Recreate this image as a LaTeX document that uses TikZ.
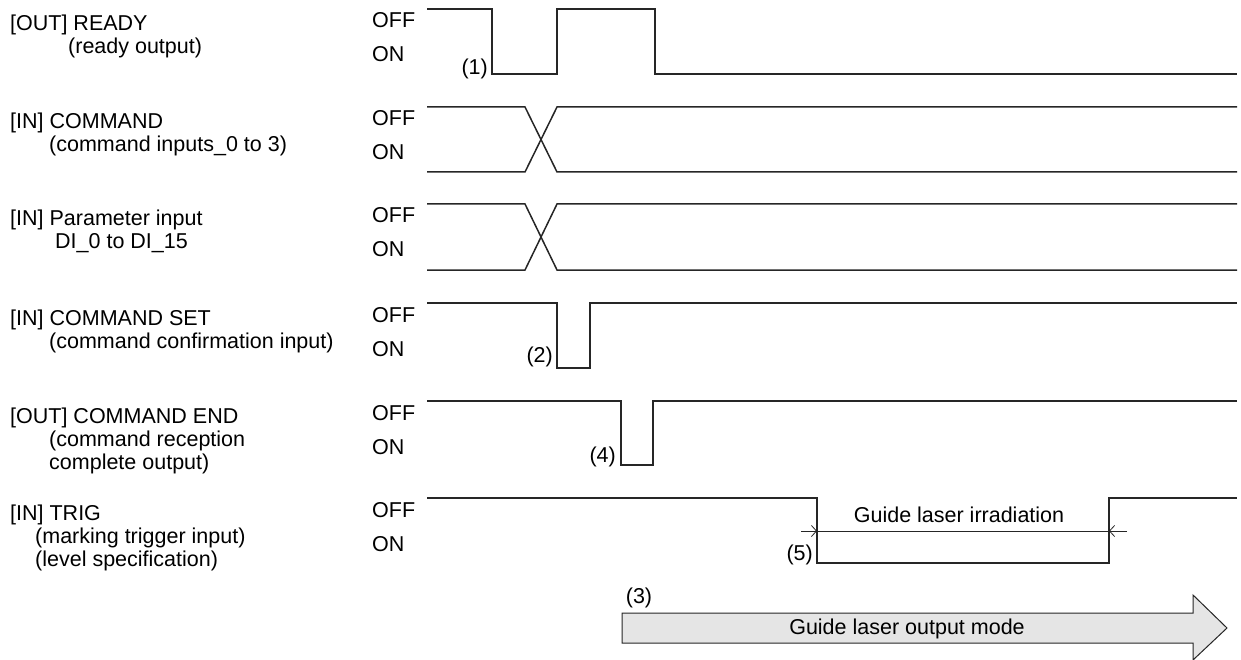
\documentclass[tikz,border=0pt]{standalone}
\usepackage{fontspec}
\setmainfont{Liberation Sans}
\usetikzlibrary{arrows.meta}
\begin{document}
\begin{tikzpicture}[x=1pt, y=-1pt, font=\fontsize{21.5}{25}\selectfont,
  wave/.style={line width=1.5pt, color=black!85},
  sig/.style={anchor=base west, inner sep=0pt},
  lvl/.style={anchor=base west, inner sep=0pt},
  tag/.style={anchor=east, inner sep=0pt},
  dim/.style={line width=0.8pt, color=black!85}]
  \useasboundingbox (0,0) rectangle (1241,660);
  % signal names
  \node[sig] (rdy) at (10,31) {[OUT] READY};
  \node[sig] (rdyb) at (68,54) {(ready output)};
  \node[sig] (cmd) at (10,129) {[IN] COMMAND};
  \node[sig] (cmdb) at (49,152) {(command inputs\_0 to 3)};
  \node[sig] (par) at (10,226) {[IN] Parameter input};
  \node[sig] (parb) at (55,249) {DI\_0 to DI\_15};
  \node[sig] (set) at (10,325) {[IN] COMMAND SET};
  \node[sig] (setb) at (49,348) {(command confirmation input)};
  \node[sig] (cend) at (10,423) {[OUT] COMMAND END};
  \node[sig] (cendb) at (49,446) {(command reception};
  \node[sig] (cendc) at (49,469) {complete output)};
  \node[sig] (trg) at (10,520) {[IN] TRIG};
  \node[sig] (trgb) at (35,543) {(marking trigger input)};
  \node[sig] (trgc) at (35,566) {(level specification)};
  % OFF / ON levels
  \foreach \i/\yoff/\yon in {1/28/62, 2/126/160, 3/223/257, 4/322/356, 5/420/454, 6/517/551} {
    \node[lvl] (off\i) at (372,\yoff) {OFF};
    \node[lvl] (on\i) at (372,\yon) {ON};
  }
  % READY
  \draw[wave] (427,9) -- (492,9) -- (492,74) -- (557,74) -- (557,9) -- (655,9) -- (655,74) -- (1237,74);
  \node[tag] (t1) at (488,69) {(1)};
  % COMMAND
  \draw[wave] (427,107) -- (525,107) -- (557,172) -- (1237,172);
  \draw[wave] (427,172) -- (525,172) -- (557,107) -- (1237,107);
  % Parameter input
  \draw[wave] (427,204) -- (525,204) -- (557,270) -- (1237,270);
  \draw[wave] (427,270) -- (525,270) -- (557,204) -- (1237,204);
  % COMMAND SET
  \draw[wave] (427,303) -- (557,303) -- (557,368) -- (590,368) -- (590,303) -- (1237,303);
  \node[tag] (t2) at (553,357) {(2)};
  % COMMAND END
  \draw[wave] (427,401) -- (621,401) -- (621,465) -- (653,465) -- (653,401) -- (1237,401);
  \node[tag] (t4) at (616,457) {(4)};
  % TRIG
  \draw[wave] (427,498) -- (817,498) -- (817,563) -- (1109,563) -- (1109,498) -- (1237,498);
  \node[tag] (t5) at (813,555) {(5)};
  \coordinate (irrL) at (817,531);
  \coordinate (irrR) at (1109,531);
  \coordinate (irrLo) at (801,531);
  \coordinate (irrRo) at (1127,531);
  \draw[dim] (irrL) -- (irrR);
  \draw[dim, -{Straight Barb[length=5pt, width=11pt]}] (irrLo) -- (irrL);
  \draw[dim, -{Straight Barb[length=5pt, width=11pt]}] (irrRo) -- (irrR);
  \node (irr) at (959,515) {Guide laser irradiation};
  % guide laser output mode
  \draw[line width=1pt, color=black!85, fill=black!10] (622,613) -- (1193,613) -- (1193,595) -- (1227,628) -- (1193,660) -- (1193,643) -- (622,643) -- cycle;
  \node (mode) at (907,629) {Guide laser output mode};
  \node (t3) at (639,598) {(3)};
\end{tikzpicture}
\end{document}
